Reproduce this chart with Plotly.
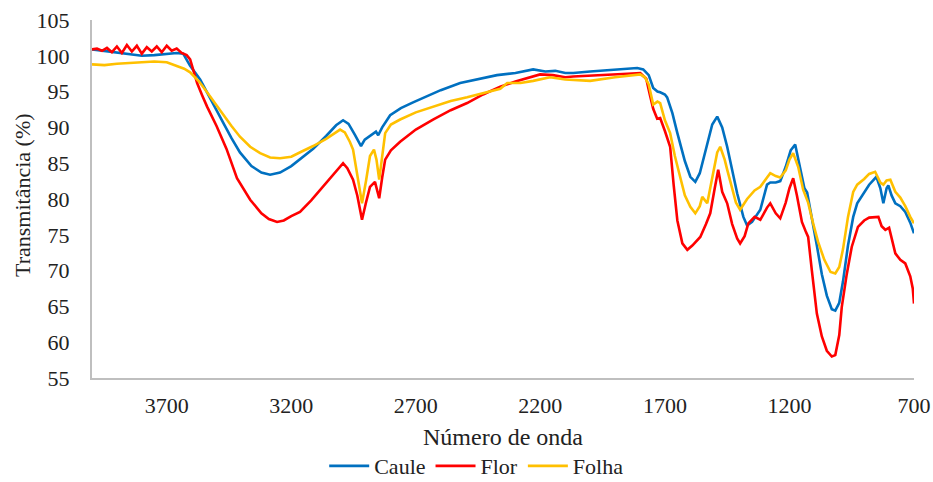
import plotly.graph_objects as go

# ---- Data ----
wn_caule = [4000, 3950, 3900, 3850, 3800, 3750, 3700, 3660, 3634, 3606, 3566, 3520, 3474, 3440, 3406,
            3360, 3320, 3285, 3245, 3200, 3150, 3112, 3060, 3020, 2992, 2970, 2945, 2920, 2905, 2880,
            2860, 2851, 2835, 2803, 2760, 2711, 2650, 2600, 2522, 2450, 2374, 2300, 2229, 2180, 2140,
            2100, 2068, 2000, 1932, 1870, 1811, 1787, 1765, 1747, 1730, 1719, 1700, 1691, 1670, 1650,
            1639, 1620, 1598, 1578, 1560, 1546, 1528, 1510, 1490, 1470, 1450, 1430, 1410, 1385, 1370,
            1350, 1317, 1290, 1277, 1255, 1237, 1215, 1195, 1177, 1160, 1140, 1129, 1110, 1090, 1070,
            1050, 1030, 1016, 1000, 985, 965, 944, 928, 904, 880, 851, 835, 823, 810, 803, 790,
            775, 755, 735, 715, 700]
t_caule = [100.9, 100.7, 100.5, 100.2, 100.0, 100.1, 100.3, 100.4, 100.3, 98.6, 96.7, 93.8, 90.7, 88.5, 86.5,
           84.6, 83.7, 83.4, 83.7, 84.6, 86.0, 87.0, 88.8, 90.3, 91.0, 90.5, 89.0, 87.4, 88.3, 88.9,
           89.4, 88.9, 90.0, 91.7, 92.7, 93.5, 94.4, 95.2, 96.2, 96.7, 97.3, 97.6, 98.1, 97.8, 97.9,
           97.6, 97.6, 97.8, 98.0, 98.2, 98.3, 98.1, 97.3, 95.5, 95.0, 94.9, 94.6, 94.2, 92.0, 89.2,
           87.9, 85.3, 83.1, 82.4, 83.6, 85.5, 88.3, 90.4, 91.5, 90.0, 87.3, 84.0, 80.8, 77.5, 76.3,
           76.8, 78.5, 82.0, 82.3, 82.3, 82.5, 84.5, 86.8, 87.6, 85.0, 81.5, 80.9, 77.5, 73.5, 69.5,
           66.5, 64.6, 64.4, 65.5, 68.5, 73.5, 77.5, 79.4, 80.8, 82.0, 83.1, 81.5, 79.4, 81.5, 81.9, 80.5,
           79.4, 79.0, 78.2, 76.7, 75.2]

wn_flor = [4000, 3980, 3960, 3940, 3920, 3900, 3880, 3860, 3840, 3820, 3800, 3780, 3760, 3740, 3720,
           3700, 3680, 3660, 3640, 3620, 3606, 3590, 3578, 3558, 3538, 3500, 3460, 3418, 3365, 3320,
           3290, 3257, 3230, 3200, 3165, 3120, 3084, 3040, 3010, 2992, 2975, 2952, 2935, 2916, 2900,
           2884, 2864, 2847, 2835, 2823, 2800, 2763, 2700, 2631, 2560, 2494, 2430, 2361, 2300, 2260,
           2201, 2150, 2100, 2068, 2000, 1932, 1850, 1799, 1775, 1760, 1747, 1731, 1719, 1700, 1679,
           1665, 1650, 1630, 1610, 1590, 1558, 1535, 1518, 1500, 1486, 1470, 1450, 1430, 1410, 1398,
           1380, 1365, 1340, 1317, 1290, 1277, 1255, 1237, 1215, 1200, 1185, 1170, 1150, 1135, 1125,
           1110, 1090, 1070, 1050, 1030, 1016, 1000, 990, 970, 950, 925, 900, 880, 843, 830,
           815, 800, 790, 775, 755, 735, 715, 705, 700]
t_flor = [100.9, 101.0, 100.7, 101.1, 100.5, 101.3, 100.4, 101.5, 100.6, 101.4, 100.3, 101.2, 100.6, 101.3, 100.5,
          101.4, 100.7, 101.0, 100.4, 100.1, 99.5, 97.8, 96.2, 94.5, 92.9, 90.2, 87.0, 82.9, 79.9, 78.0,
          77.2, 76.8, 77.0, 77.6, 78.2, 79.8, 81.3, 83.0, 84.4, 85.0, 84.3, 82.7, 80.5, 77.1, 79.5,
          81.7, 82.4, 80.1, 83.0, 85.5, 86.8, 88.0, 89.7, 91.1, 92.4, 93.4, 94.6, 95.7, 96.4, 96.8,
          97.4, 97.3, 97.0, 97.1, 97.2, 97.4, 97.5, 97.6, 96.8, 94.5, 92.6, 91.2, 91.3, 89.5, 87.3,
          82.0, 77.0, 73.8, 72.9, 73.5, 74.7, 76.5, 78.0, 81.5, 84.1, 81.0, 79.4, 76.5, 74.5, 73.8,
          74.8, 76.6, 77.5, 77.1, 78.8, 79.4, 78.0, 77.3, 79.5, 81.5, 82.9, 80.5, 76.8, 75.5, 74.7,
          70.0, 64.0, 60.8, 58.8, 58.0, 58.2, 61.0, 64.9, 69.5, 73.3, 76.1, 77.0, 77.4, 77.5, 76.2,
          75.7, 76.0, 74.5, 72.4, 71.5, 71.0, 69.2, 67.5, 65.4]

wn_folha = [4000, 3950, 3900, 3850, 3800, 3750, 3700, 3658, 3630, 3606, 3570, 3538, 3505, 3474, 3440,
            3406, 3365, 3325, 3285, 3245, 3200, 3160, 3112, 3060, 3030, 3004, 2985, 2965, 2952, 2935,
            2916, 2900, 2884, 2868, 2858, 2847, 2835, 2823, 2800, 2763, 2700, 2631, 2560, 2494, 2420,
            2361, 2333, 2280, 2229, 2161, 2100, 2000, 1900, 1820, 1799, 1780, 1765, 1747, 1730, 1719,
            1700, 1679, 1660, 1639, 1620, 1598, 1578, 1560, 1550, 1530, 1510, 1490, 1478, 1460, 1450,
            1430, 1415, 1398, 1370, 1340, 1317, 1290, 1277, 1255, 1237, 1215, 1200, 1185, 1165, 1145,
            1125, 1105, 1085, 1060, 1035, 1016, 1000, 985, 965, 944, 928, 900, 880, 856, 835,
            823, 810, 795, 775, 755, 735, 715, 700]
t_folha = [98.8, 98.7, 98.9, 99.0, 99.1, 99.2, 99.1, 98.6, 98.2, 97.7, 96.4, 94.9, 93.3, 91.8, 90.2,
           88.7, 87.3, 86.4, 85.8, 85.7, 85.9, 86.6, 87.4, 88.4, 89.1, 89.7, 89.3, 88.0, 86.9, 83.5,
           79.4, 82.5, 86.0, 86.9, 85.5, 82.7, 86.0, 89.2, 90.4, 91.1, 92.1, 92.9, 93.7, 94.2, 94.9,
           95.4, 96.2, 96.2, 96.5, 97.0, 96.7, 96.5, 97.0, 97.3, 97.4, 97.0, 96.0, 93.2, 93.6, 93.4,
           91.0, 89.2, 86.0, 83.1, 80.5, 78.9, 78.0, 79.0, 80.3, 79.4, 83.0, 86.5, 87.3, 85.5, 84.1,
           81.5, 79.5, 78.5, 80.0, 81.2, 81.7, 83.0, 83.6, 83.2, 83.0, 84.0, 85.5, 86.4, 84.5, 81.3,
           79.5, 76.6, 74.0, 71.5, 69.8, 69.6, 70.5, 73.0, 77.5, 81.0, 82.0, 82.8, 83.5, 83.8, 82.3,
           82.0, 82.6, 82.7, 81.0, 80.2, 79.0, 77.5, 76.6]

x_ticks = [3700, 3200, 2700, 2200, 1700, 1200, 700]
y_ticks = [55, 60, 65, 70, 75, 80, 85, 90, 95, 100, 105]

series = [
    ("Caule", wn_caule, t_caule, "#0070C0"),
    ("Flor", wn_flor, t_flor, "#FF0000"),
    ("Folha", wn_folha, t_folha, "#FFC000"),
]

fig = go.Figure()
for name, xs, ys, col in series:
    fig.add_trace(go.Scatter(x=xs, y=ys, mode="lines", name=name,
                             line=dict(color=col, width=2.6)))

FONT = "Liberation Serif"
TXT = "#222222"
W, H = 933, 482
ML, MR, MT, MB = 92, 19, 20, 104
PW, PH = W - ML - MR, H - MT - MB

fig.update_layout(
    width=W, height=H,
    margin=dict(l=ML, r=MR, t=MT, b=MB, autoexpand=False),
    paper_bgcolor="white", plot_bgcolor="white",
    font=dict(family=FONT, color=TXT, size=20),
    showlegend=True,
    legend=dict(orientation="h", xref="paper", yref="container",
                x=0.468, xanchor="center", y=0.033, yanchor="middle",
                font=dict(family=FONT, size=22, color=TXT),
                itemwidth=40, tracegroupgap=0),
    annotations=[
        dict(text="Número de onda", xref="paper", yref="paper",
             x=0.5, y=(H - MB - 437) / PH, xanchor="center", yanchor="middle",
             showarrow=False, font=dict(family=FONT, size=24, color=TXT)),
        dict(text="Transmitância (%)", xref="paper", yref="paper",
             x=(22 - ML) / PW, y=(H - MB - 195) / PH, xanchor="center", yanchor="middle",
             textangle=-90, showarrow=False, font=dict(family=FONT, size=22, color=TXT)),
    ],
)
fig.update_xaxes(
    range=[4000, 700], tickvals=x_ticks, ticktext=[str(v) for v in x_ticks],
    showgrid=False, zeroline=False, showline=True, linecolor="#BFBFBF", linewidth=2,
    ticks="", ticklabelstandoff=7, automargin=False,
    tickfont=dict(family=FONT, size=22, color=TXT),
)
fig.update_yaxes(
    range=[55, 105], tickvals=y_ticks, ticktext=[str(v) for v in y_ticks],
    showgrid=False, zeroline=False, showline=True, linecolor="#BFBFBF", linewidth=2,
    ticks="", ticklabelstandoff=16, automargin=False,
    tickfont=dict(family=FONT, size=22, color=TXT),
)

fig.write_html("out.html")
